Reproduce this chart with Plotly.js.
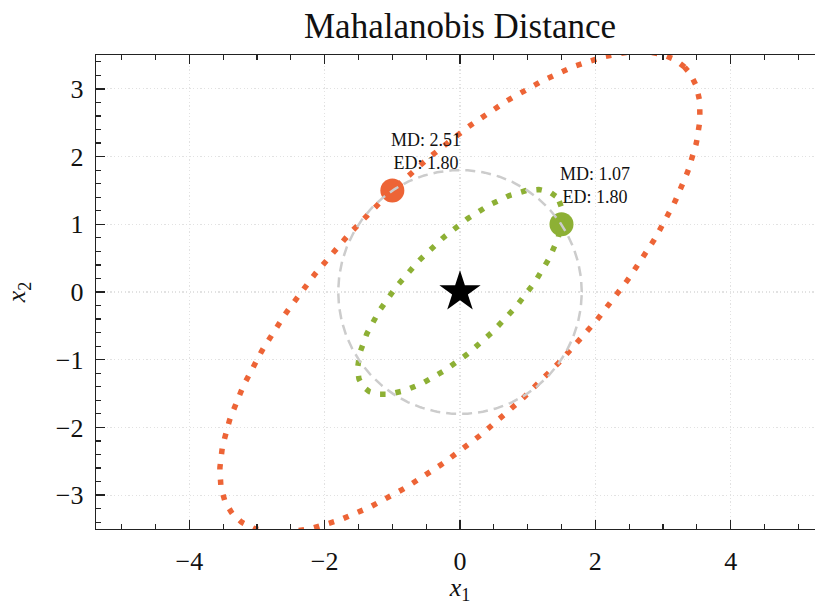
<!DOCTYPE html>
<html>
<head>
<meta charset="utf-8">
<script src="https://cdn.plot.ly/plotly-3.0.1.min.js"></script>
<style>
html,body{margin:0;padding:0;overflow:hidden;background:#fff;}
#chart{width:825px;height:605px;}
</style>
</head>
<body>
<div id="chart"></div>
<script>
// ---- data ----
var covariance = [2.0, 1.5, 1.5, 2.0];          // [s11, s12, s21, s22]
var center = [0, 0];
var pointNames = ['orange', 'green'];
var pointX = [-1.0, 1.5];
var pointY = [1.5, 1.0];
var mdValues = [2.51, 1.07];
var edValues = [1.80, 1.80];
var circleRadius = 1.80;
var pointColors = ['#ED6436', '#8DB035'];
var xTickVals = [-4, -2, 0, 2, 4];
var yTickVals = [-3, -2, -1, 0, 1, 2, 3];

// ---- helpers ----
function fmtNum(v){ return (v < 0 ? '\u2212' : '') + Math.abs(v); }

// eigen-decomposition of symmetric 2x2 covariance
var a = covariance[0], c = covariance[1], b = covariance[3];
var tr = a + b, det = a*b - c*c;
var disc = Math.sqrt(tr*tr/4 - det);
var l1 = tr/2 + disc, l2 = tr/2 - disc;
var v1 = c !== 0 ? [l1 - b, c] : [1, 0];
var n1 = Math.hypot(v1[0], v1[1]); v1 = [v1[0]/n1, v1[1]/n1];
var v2 = [-v1[1], v1[0]];

function ellipse(r){
  var xs = [], ys = [], N = 400;
  for (var i = 0; i <= N; i++){
    var t = 2*Math.PI*i/N;
    var u = r*Math.sqrt(l1)*Math.cos(t), w = r*Math.sqrt(l2)*Math.sin(t);
    xs.push(center[0] + u*v1[0] + w*v2[0]);
    ys.push(center[1] + u*v1[1] + w*v2[1]);
  }
  return {x: xs, y: ys};
}
function circle(r){
  var xs = [], ys = [], N = 400;
  for (var i = 0; i <= N; i++){
    var t = 2*Math.PI*i/N;
    xs.push(center[0] + r*Math.cos(t)); ys.push(center[1] + r*Math.sin(t));
  }
  return {x: xs, y: ys};
}

var traces = [];
// markers
for (var k = 0; k < pointX.length; k++){
  traces.push({x:[pointX[k]], y:[pointY[k]], mode:'markers', type:'scatter',
    marker:{color:pointColors[k], size:24, line:{width:0}}, hoverinfo:'skip', cliponaxis:false});
}
// ellipses
for (var k = 0; k < mdValues.length; k++){
  var e = ellipse(mdValues[k]);
  traces.push({x:e.x, y:e.y, mode:'lines', type:'scatter',
    line:{color:pointColors[k], width:5.5, dash:'5.5px,10px'}, hoverinfo:'skip'});
}
// circle
var cc = circle(circleRadius);
traces.push({x:cc.x, y:cc.y, mode:'lines', type:'scatter',
  line:{color:'#cccccc', width:2.5, dash:'10px,6px'}, hoverinfo:'skip'});
// center star
traces.push({x:[center[0]], y:[center[1]], mode:'markers', type:'scatter',
  marker:{symbol:'star', color:'#000', size:31, line:{width:0}}, hoverinfo:'skip'});

var annotations = [];
for (var k = 0; k < pointX.length; k++){
  annotations.push({x: pointX[k] + 0.5, y: pointY[k] + 0.57, xref:'x', yref:'y',
    text: 'MD: ' + mdValues[k].toFixed(2) + '<br>ED: ' + edValues[k].toFixed(2),
    showarrow:false, font:{family:'Liberation Serif, serif', size:18, color:'#111'},
    align:'center', xanchor:'center', yanchor:'middle'});
}

var font = 'Liberation Serif, Times New Roman, serif';
var axisCommon = {
  showline:true, linecolor:'#222', linewidth:1.3, mirror:'allticks',
  ticks:'inside', ticklen:9, tickwidth:1.3, tickcolor:'#222',
  showgrid:true, gridcolor:'#e2e2e2', griddash:'1.2px,2.4px', gridwidth:1.1,
  zeroline:false, tickfont:{family:font, size:26, color:'#111'}
};

var layout = {
  width:825, height:605,
  margin:{l:96, r:1, t:55, b:76},
  paper_bgcolor:'#fff', plot_bgcolor:'#fff',
  showlegend:false,
  title:{text:'Mahalanobis Distance', font:{family:font, size:35, color:'#111'},
    x:0.5, xref:'paper', xanchor:'center', y:0.958, yanchor:'middle'},
  xaxis: Object.assign({}, axisCommon, {
    range:[-5.38, 5.38], tickvals:xTickVals, ticktext:xTickVals.map(fmtNum),
    minor:{dtick:0.5, tick0:0, ticks:'inside', ticklen:5, tickwidth:1.2, tickcolor:'#222', showgrid:false},
    ticklabelstandoff:8,
    title:{text:'<i>x</i><sub>1</sub>', font:{family:font, size:26, color:'#111'}, standoff:10}
  }),
  yaxis: Object.assign({}, axisCommon, {
    range:[-3.5, 3.5], tickvals:yTickVals, ticktext:yTickVals.map(fmtNum),
    minor:{dtick:0.2, tick0:0, ticks:'inside', ticklen:5, tickwidth:1.2, tickcolor:'#222', showgrid:false},
    ticklabelstandoff:6,
    title:{text:'<i>x</i><sub>2</sub>', font:{family:font, size:26, color:'#111'}, standoff:22}
  }),
  annotations: annotations
};

Plotly.newPlot('chart', traces, layout, {displayModeBar:false, staticPlot:true});
</script>
</body>
</html>
